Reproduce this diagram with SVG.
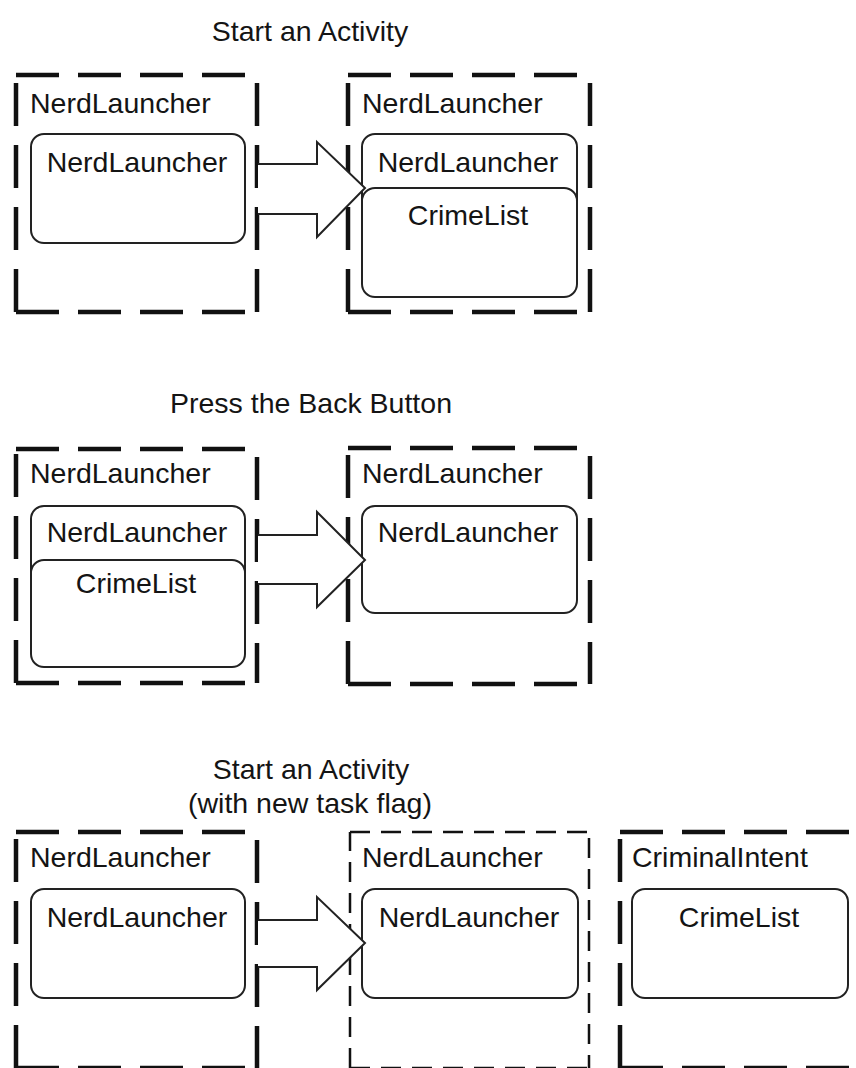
<svg xmlns="http://www.w3.org/2000/svg" width="856" height="1068" viewBox="0 0 856 1068">
<style>
  text { font-family: "Liberation Sans", Arial, sans-serif; font-size: 28.5px; fill: #141414; }
  .mid { text-anchor: middle; }
  .task { fill: none; stroke: #111; stroke-width: 4.5; stroke-dasharray: 43 19; }
  .task.thin { stroke-width: 2.5; stroke-dasharray: 20 11; }
  .act { fill: #fff; stroke: #222; stroke-width: 2; }
  .arrow { fill: #fff; stroke: #222; stroke-width: 2; stroke-linejoin: miter; }
</style>

<!-- Titles -->
<g id="titles">
  <text class="mid" x="310" y="41">Start an Activity</text>
  <text class="mid" x="311" y="413">Press the Back Button</text>
  <text class="mid" x="311" y="779">Start an Activity</text>
  <text class="mid" x="310" y="813">(with new task flag)</text>
</g>

<!-- Row 1 -->
<g id="r1-task1">
  <path class="task" d="M16,75 H257 M16,312 H257 M16,312 V75 M257,83 V312"/>
  <text x="30" y="113">NerdLauncher</text>
  <rect class="act" x="31" y="134" width="214" height="109" rx="13"/>
  <text class="mid" x="137" y="172">NerdLauncher</text>
</g>
<g id="r1-task2">
  <path class="task" d="M348,75 H590 M348,312 H590 M348,312 V75 M590,83 V312"/>
  <text x="362" y="113">NerdLauncher</text>
  <rect class="act" x="362" y="134" width="215" height="110" rx="13"/>
  <text class="mid" x="468" y="172">NerdLauncher</text>
  <rect class="act" x="362" y="188" width="215" height="109" rx="13"/>
  <text class="mid" x="468" y="225">CrimeList</text>
</g>

<!-- Row 2 -->
<g id="r2-task1">
  <path class="task" d="M16,449 H257 M16,683 H257 M16,683 V449 M257,457 V683"/>
  <text x="30" y="483">NerdLauncher</text>
  <rect class="act" x="31" y="506" width="214" height="110" rx="13"/>
  <text class="mid" x="137" y="542">NerdLauncher</text>
  <rect class="act" x="31" y="560" width="214" height="107" rx="13"/>
  <text class="mid" x="136" y="593">CrimeList</text>
</g>
<g id="r2-task2">
  <path class="task" d="M348,448 H590 M348,684 H590 M348,684 V448 M590,456 V684"/>
  <text x="362" y="483">NerdLauncher</text>
  <rect class="act" x="362" y="506" width="215" height="107" rx="13"/>
  <text class="mid" x="468" y="542">NerdLauncher</text>
</g>

<!-- Row 3 -->
<g id="r3-task1">
  <path class="task" d="M16,832 H257 M16,1068 H257 M16,1068 V832 M257,840 V1068"/>
  <text x="30" y="867">NerdLauncher</text>
  <rect class="act" x="31" y="889" width="214" height="109" rx="13"/>
  <text class="mid" x="137" y="927">NerdLauncher</text>
</g>
<g id="r3-task2">
  <path class="task thin" d="M350,832 H589 M350,1068 H589 M350,1068 V832 M589,838 V1068"/>
  <text x="362" y="867">NerdLauncher</text>
  <rect class="act" x="362" y="889" width="216" height="109" rx="13"/>
  <text class="mid" x="469" y="927">NerdLauncher</text>
</g>
<g id="r3-task3">
  <path class="task" d="M620,832 H880 M620,1068 H880 M620,1068 V832"/>
  <text x="632" y="867">CriminalIntent</text>
  <rect class="act" x="632" y="889" width="216" height="109" rx="13"/>
  <text class="mid" x="739" y="927">CrimeList</text>
</g>

<!-- Connectors -->
<g id="connectors">
  <path class="arrow" d="M258,164 H317 V142 L365,188 L317,237 V214 H258"/>
  <path class="arrow" d="M258,535 H317 V512 L365,560 L317,607 V584 H258"/>
  <path class="arrow" d="M258,920 H317 V897 L365,943 L317,990 V967 H258"/>
</g>
</svg>
